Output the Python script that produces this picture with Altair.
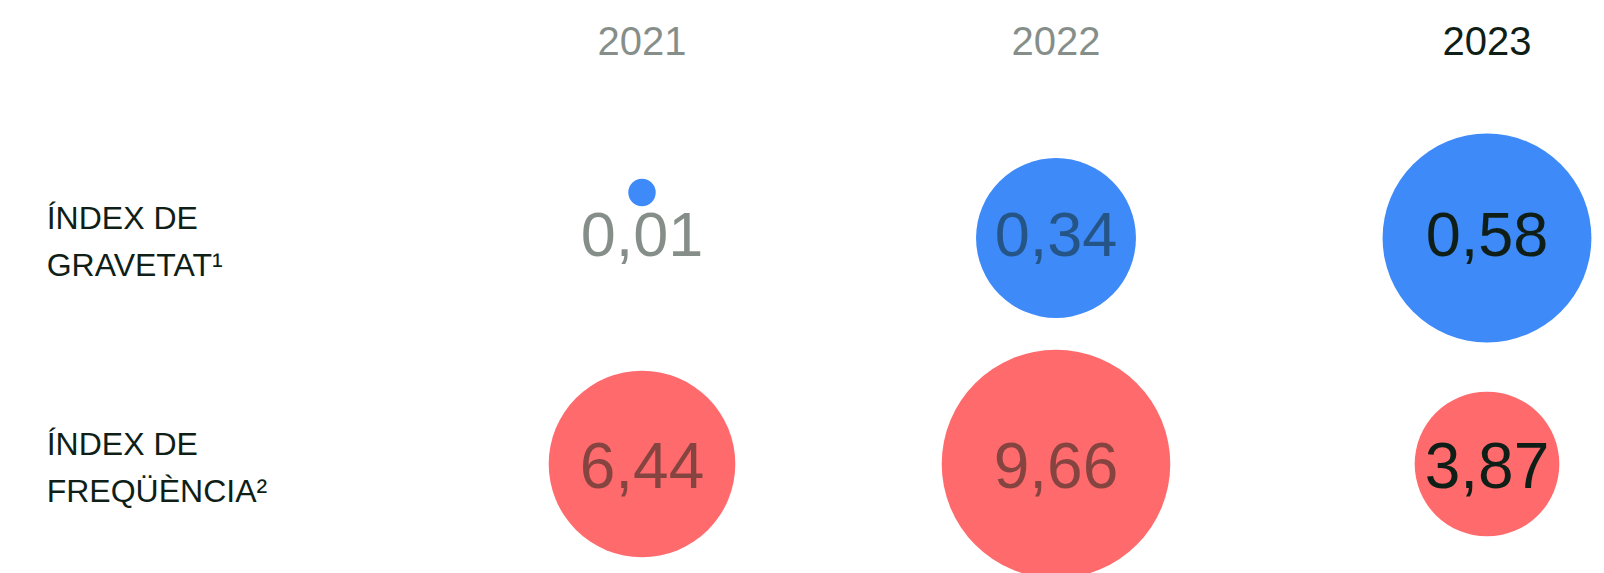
import altair as alt
import pandas as pd

# ---- data ----
years = [2021, 2022, 2023]
rows = ["gravetat", "frequencia"]
row_labels = ["ÍNDEX DE\nGRAVETAT¹", "ÍNDEX DE\nFREQÜÈNCIA²"]
gravetat = [0.01, 0.34, 0.58]
frequencia = [6.44, 9.66, 3.87]

BLUE = "#3D8AF8"
RED = "#FF6B6D"
DARK = "#0F1F17"
FONT = "Liberation Sans"

values = pd.DataFrame({
    "year": years * 2,
    "row": [rows[0]] * 3 + [rows[1]] * 3,
    "value": gravetat + frequencia,
})
values["label"] = [f"{v:.2f}".replace(".", ",") for v in values["value"]]

year_df = pd.DataFrame({"year": years, "ylabel": [str(y) for y in years]})
rowlab_df = pd.DataFrame({"row": rows, "rlabel": row_labels})

X = alt.X("year:Q", axis=None,
          scale=alt.Scale(domain=[2021, 2022, 2023], range=[634, 1048, 1479],
                          nice=False, zero=False))
Y = alt.Y("row:N", axis=None,
          scale=alt.Scale(type="point", domain=rows, range=[230, 456], padding=0))
OPAC = alt.condition("datum.year == 2023", alt.value(1), alt.value(0.5))

base = alt.Chart(values)

grav_size = alt.Size("value:Q", legend=None,
                     scale=alt.Scale(type="linear", domain=[0, 1], range=[0, 75200], zero=True))
freq_size = alt.Size("value:Q", legend=None,
                     scale=alt.Scale(type="linear", domain=[0, 10], range=[0, 54080], zero=True))

grav_big = base.transform_filter(
    "datum.row == 'gravetat' && datum.value >= 0.1"
).mark_circle(color=BLUE, opacity=1, strokeWidth=0).encode(x=X, y=Y, size=grav_size)

grav_small = base.transform_filter(
    "datum.row == 'gravetat' && datum.value < 0.1"
).mark_circle(color=BLUE, opacity=1, strokeWidth=0).encode(
    x=X, y=Y, size=grav_size, yOffset=alt.value(-45.5))

freq_c = base.transform_filter("datum.row == 'frequencia'").mark_circle(
    color=RED, opacity=1, strokeWidth=0).encode(x=X, y=Y, size=freq_size)

grav_t = base.transform_filter("datum.row == 'gravetat'").mark_text(
    font=FONT, fontSize=63, color=DARK, align="center", baseline="alphabetic", dy=18
).encode(x=X, y=Y, text="label:N", opacity=OPAC)

freq_t = base.transform_filter("datum.row == 'frequencia'").mark_text(
    font=FONT, fontSize=64, color=DARK, align="center", baseline="alphabetic", dy=24
).encode(x=X, y=Y, text="label:N", opacity=OPAC)

year_t = alt.Chart(year_df).mark_text(
    font=FONT, fontSize=40, color=DARK, align="center", baseline="alphabetic"
).encode(x=X, y=alt.value(47), text="ylabel:N", opacity=OPAC)

row_t = alt.Chart(rowlab_df).mark_text(
    font=FONT, fontSize=32, color=DARK, align="left", baseline="alphabetic",
    lineBreak="\n", lineHeight=47, dy=-9
).encode(x=alt.value(38.7), y=Y, text="rlabel:N")

chart = alt.layer(
    grav_big, grav_small, freq_c, grav_t, freq_t, year_t, row_t
).resolve_scale(size="independent").properties(
    width=1588, height=565,
    autosize=alt.AutoSizeParams(type="none"),
    padding=0,
    background="white",
).configure_view(stroke=None)

chart.save("out.html", embed_options={"renderer": "svg", "actions": False})
